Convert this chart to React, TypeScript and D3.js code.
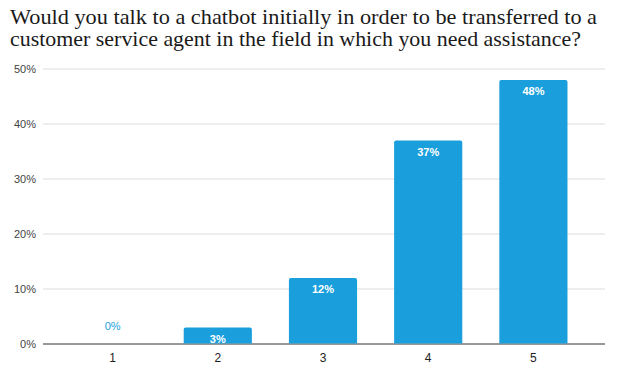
import React from "react";
import * as d3 from "d3";

const categories = ["1", "2", "3", "4", "5"];
const values = [0, 3, 12, 37, 48];
const yTicks = [0, 10, 20, 30, 40, 50];
const titleLines = [
  "Would you talk to a chatbot initially in order to be transferred to a",
  "customer service agent in the field in which you need assistance?",
];
const titleWidths = [587, 571];

const W = 619;
const H = 376;
const BAR = "#1a9fdc";

export default function App() {
  const y = d3.scaleLinear().domain([0, 50]).range([344, 69]);
  const x = d3.scaleBand<string>().domain(categories).range([60, 586]).paddingInner(0.352).paddingOuter(0.176);
  const r = 2;
  const barPath = (x0: number, w: number, top: number, bottom: number) => {
    const h = bottom - top;
    const rr = Math.min(r, h / 2, w / 2);
    const p = d3.path();
    p.moveTo(x0, bottom);
    p.lineTo(x0, top + rr);
    p.arcTo(x0, top, x0 + rr, top, rr);
    p.lineTo(x0 + w - rr, top);
    p.arcTo(x0 + w, top, x0 + w, top + rr, rr);
    p.lineTo(x0 + w, bottom);
    p.closePath();
    return p.toString();
  };
  return (
    <svg width={W} height={H} style={{ position: "absolute", left: 0, top: 0, background: "#fff" }}>
      {titleLines.map((t, i) => (
        <text key={i} x={10} y={24 + i * 22} fontFamily="'Liberation Serif', serif" fontSize={22} fill="#1a1a1a"
          textLength={titleWidths[i]} lengthAdjust="spacingAndGlyphs">
          {t}
        </text>
      ))}
      {yTicks.map((t) => (
        <g key={t}>
          <line x1={43} x2={605} y1={y(t)} y2={y(t)} stroke={t === 0 ? "#333" : "#ddd"} strokeWidth={1} />
          <text x={36} y={y(t) + 4} textAnchor="end" fontFamily="Arial, 'Liberation Sans', sans-serif" fontSize={11} fill="#444">
            {t}%
          </text>
        </g>
      ))}
      {categories.map((c, i) => {
        const v = values[i];
        const x0 = x(c)!;
        const w = x.bandwidth();
        const cx = x0 + w / 2;
        return (
          <g key={c}>
            {v > 0 && <path d={barPath(x0, w, y(v), y(0) - 0.5)} fill={BAR} />}
            {v > 0 ? (
              <text x={cx} y={y(v) + 15} textAnchor="middle" fontFamily="Arial, 'Liberation Sans', sans-serif" fontSize={11} fontWeight="bold" fill="#fff">
                {v}%
              </text>
            ) : (
              <text x={cx} y={y(0) - 14} textAnchor="middle" fontFamily="Arial, 'Liberation Sans', sans-serif" fontSize={11} fill={BAR}>
                {v}%
              </text>
            )}
            <text x={cx} y={362} textAnchor="middle" fontFamily="Arial, 'Liberation Sans', sans-serif" fontSize={12} fill="#222">
              {c}
            </text>
          </g>
        );
      })}
    </svg>
  );
}
